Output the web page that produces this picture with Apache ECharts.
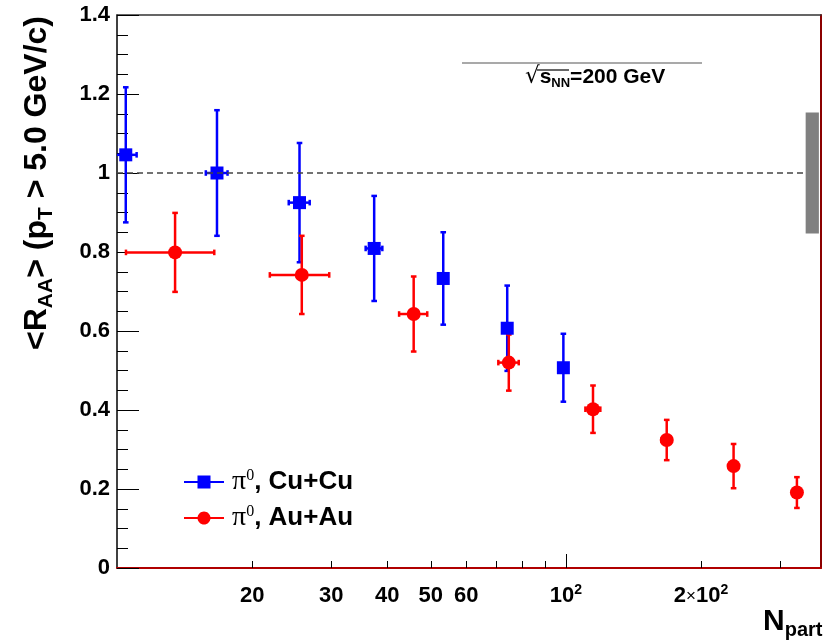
<!DOCTYPE html>
<html><head><meta charset="utf-8">
<script src="https://cdn.jsdelivr.net/npm/echarts@6/dist/echarts.min.js"></script>
<style>html,body{margin:0;padding:0;background:#fff}#c{width:833px;height:643px}</style>
</head><body><div id="c"></div>
<script>
// ---- data ----
const cuNpart = [10.46, 16.7, 25.5, 37.4, 53.3, 74.0, 98.7];
const cuRaa   = [1.046, 1.000, 0.925, 0.809, 0.733, 0.607, 0.507];
const cuErrY  = [0.171, 0.159, 0.151, 0.133, 0.117, 0.108, 0.086];
const cuErrX  = [0.6, 0.93, 1.37, 1.6, 1.2, 1.5, 1.8];

const auNpart = [13.47, 25.8, 45.8, 74.6, 114.9, 167.7, 236.3, 327];
const auRaa   = [0.799, 0.742, 0.643, 0.520, 0.402, 0.324, 0.258, 0.191];
const auErrY  = [0.100, 0.099, 0.095, 0.071, 0.060, 0.051, 0.056, 0.039];
const auErrX  = [3.0, 3.9, 3.3, 3.9, 4.4, 4.5, 4.5, 4.5];

const xTickMinor  = [20, 30, 40, 50, 60, 70, 80, 90, 200, 300];
const xTickMajor  = [100];
const xTickLabels = [20, 30, 40, 50, 60, 100, 200];
const refLine     = 1.0;
const normBandN   = [342, 366];
const normBandRaa = [0.847, 1.153];

const FONT = 'Liberation Sans';
const BLUE = '#0000ff', RED = '#ff0000';

function errRender(color) {
  return function (params, api) {
    const n = api.value(0), r = api.value(1), ey = api.value(2), ex = api.value(3);
    const c = api.coord([n, r]);
    const t = api.coord([n, r + ey]);
    const b = api.coord([n, r - ey]);
    const l = api.coord([n - ex, r]);
    const rr = api.coord([n + ex, r]);
    const cap = 2.8;
    const st = { stroke: color, lineWidth: 2.5 };
    return {
      type: 'group',
      children: [
        { type: 'line', shape: { x1: c[0], y1: t[1], x2: c[0], y2: b[1] }, style: st },
        { type: 'line', shape: { x1: c[0] - cap, y1: t[1], x2: c[0] + cap, y2: t[1] }, style: st },
        { type: 'line', shape: { x1: c[0] - cap, y1: b[1], x2: c[0] + cap, y2: b[1] }, style: st },
        { type: 'line', shape: { x1: l[0], y1: c[1], x2: rr[0], y2: c[1] }, style: st },
        { type: 'line', shape: { x1: l[0], y1: c[1] - cap, x2: l[0], y2: c[1] + cap }, style: st },
        { type: 'line', shape: { x1: rr[0], y1: c[1] - cap, x2: rr[0], y2: c[1] + cap }, style: st }
      ]
    };
  };
}

// legend icon: horizontal line with a circle (polygon outline) in the middle
function circleIconPath() {
  let p = 'path://M0,5.4h40v2.2H0z M';
  const N = 32;
  for (let k = 0; k < N; k++) {
    const a = 2 * Math.PI * k / N;
    p += (20 + 6.5 * Math.cos(a)).toFixed(3) + ',' + (6.5 + 6.5 * Math.sin(a)).toFixed(3) + (k < N - 1 ? 'L' : 'z');
  }
  return p;
}

const cuData = cuNpart.map((n, i) => [n, cuRaa[i], cuErrY[i], cuErrX[i]]);
const auData = auNpart.map((n, i) => [n, auRaa[i], auErrY[i], auErrX[i]]);

const chart = echarts.init(document.getElementById('c'), null, { renderer: 'canvas' });

const xBase = { type: 'log', logBase: 10, min: 10, max: 370, gridIndex: 0 };

const option = {
  animation: false,
  backgroundColor: '#fff',
  grid: { left: 117, right: 12, top: 15, bottom: 75, containLabel: false },
  xAxis: [
    Object.assign({}, xBase, {
      position: 'bottom',
      axisLine: { show: true, lineStyle: { color: '#b00000', width: 2 } },
      axisTick: { show: true, inside: true, length: 7, customValues: xTickMinor, lineStyle: { color: '#000', width: 1 } },
      minorTick: { show: false },
      splitLine: { show: false },
      axisLabel: {
        show: true, margin: 15, customValues: xTickLabels,
        color: '#000', fontFamily: FONT, fontWeight: 'bold', fontSize: 22, lineHeight: 26,
        formatter: function (v) {
          const r = Math.round(v);
          if (r === 100) return '{m|10}{sup|2}';
          if (r === 200) return '{m|2}{x|×}{m|10}{sup|2}';
          return '{m|' + r + '}';
        },
        rich: {
          m: { fontFamily: FONT, fontWeight: 'bold', fontSize: 22, lineHeight: 26, color: '#000' },
          sup: { fontFamily: FONT, fontWeight: 'bold', fontSize: 14, lineHeight: 14, verticalAlign: 'top', color: '#000' },
          x: { fontFamily: FONT, fontWeight: 'normal', fontSize: 17, lineHeight: 26, color: '#000' }
        }
      }
    }),
    Object.assign({}, xBase, {
      position: 'bottom',
      axisLine: { show: false },
      axisTick: { show: true, inside: true, length: 14, customValues: xTickMajor, lineStyle: { color: '#000', width: 1 } },
      axisLabel: { show: false },
      splitLine: { show: false }
    }),
    Object.assign({}, xBase, {
      position: 'top',
      axisLine: { show: true, lineStyle: { color: '#333', width: 1.5 } },
      axisTick: { show: false },
      axisLabel: { show: false },
      splitLine: { show: false }
    })
  ],
  yAxis: [
    {
      type: 'value', min: 0, max: 1.4, interval: 0.2, position: 'left',
      axisLine: { show: true, lineStyle: { color: '#000', width: 1.5 } },
      axisTick: { show: true, inside: true, length: 22, lineStyle: { color: '#000', width: 1 } },
      minorTick: { show: true, splitNumber: 4, length: 11, lineStyle: { color: '#000', width: 1 } },
      splitLine: { show: false },
      axisLabel: { show: true, margin: 7, color: '#000', fontFamily: FONT, fontWeight: 'bold', fontSize: 22 }
    },
    {
      type: 'value', min: 0, max: 1.4, position: 'right',
      axisLine: { show: true, lineStyle: { color: '#8b0000', width: 2 } },
      axisTick: { show: false }, axisLabel: { show: false }, splitLine: { show: false }
    }
  ],
  legend: {
    orient: 'vertical', left: 179, top: 463, itemWidth: 40, itemHeight: 13, itemGap: 8,
    selectedMode: false,
    data: [
      { name: 'Cu+Cu', icon: 'path://M0,5.4h40v2.2H0z M13.5,0h13v13h-13z' },
      { name: 'Au+Au', icon: circleIconPath() }
    ],
    formatter: function (name) { return '{pi|π}{sup|0}{t|, ' + name + '}'; },
    textStyle: {
      color: '#000',
      rich: {
        pi: { fontFamily: 'Liberation Serif', fontSize: 28, lineHeight: 28, color: '#000', padding: [0, 0, 0, 3] },
        sup: { fontFamily: 'Liberation Serif', fontSize: 16, lineHeight: 16, verticalAlign: 'top', color: '#000' },
        t: { fontFamily: FONT, fontWeight: 'bold', fontSize: 26, lineHeight: 28, color: '#000' }
      }
    }
  },
  series: [
    {
      name: 'Cu+Cu-err', type: 'custom', clip: true, renderItem: errRender(BLUE), data: cuData,
      encode: { x: 0, y: 1 }, z: 3, silent: true
    },
    {
      name: 'Au+Au-err', type: 'custom', clip: true, renderItem: errRender(RED), data: auData,
      encode: { x: 0, y: 1 }, z: 3, silent: true
    },
    {
      name: 'Cu+Cu', type: 'scatter', symbol: 'rect', symbolSize: 13, z: 4,
      itemStyle: { color: BLUE, opacity: 1 },
      data: cuData.map(d => [d[0], d[1]]),
      markLine: {
        silent: true, symbol: 'none', label: { show: false },
        lineStyle: { type: [6, 4], color: '#444', width: 1.5 },
        data: [[{ coord: [10, refLine] }, { coord: [normBandN[0], refLine] }]]
      }
    },
    {
      name: 'Au+Au', type: 'scatter', symbol: 'circle', symbolSize: 14, z: 4,
      itemStyle: { color: RED, opacity: 1 },
      data: auData.map(d => [d[0], d[1]]),
      markArea: {
        silent: true, itemStyle: { color: '#808080', opacity: 1 },
        data: [[{ coord: [normBandN[0], normBandRaa[0]] }, { coord: [normBandN[1], normBandRaa[1]] }]]
      }
    }
  ],
  graphic: [
    {
      type: 'text', x: 37, y: 183, rotation: Math.PI / 2,
      style: {
        text: '<R{sub|AA}> (p{sub|T} > 5.0 GeV/c)',
        fontFamily: FONT, fontWeight: 'bold', fontSize: 32, lineHeight: 40, fill: '#000',
        align: 'center', verticalAlign: 'middle',
        rich: { sub: { fontFamily: FONT, fontWeight: 'bold', fontSize: 21, lineHeight: 23, verticalAlign: 'bottom', fill: '#000' } }
      }
    },
    {
      type: 'text', x: 763, y: 604,
      style: {
        text: 'N{sub|part}', fontFamily: FONT, fontWeight: 'bold', fontSize: 30, lineHeight: 36, fill: '#000',
        align: 'left', verticalAlign: 'top',
        rich: { sub: { fontFamily: FONT, fontWeight: 'bold', fontSize: 20, lineHeight: 22, verticalAlign: 'bottom', fill: '#000' } }
      }
    },
    { type: 'line', shape: { x1: 462, y1: 63, x2: 702, y2: 63 }, style: { stroke: '#555', lineWidth: 1.2 } },
    {
      type: 'text', x: 525, y: 65,
      style: {
        text: '{r|√}{s|s}{sub|NN}{s|=200 GeV}', align: 'left', verticalAlign: 'top', fill: '#000',
        rich: {
          r: { fontFamily: 'DejaVu Sans', fontSize: 23, lineHeight: 25, fill: '#000' },
          s: { fontFamily: FONT, fontWeight: 'bold', fontSize: 21, lineHeight: 25, fill: '#000' },
          sub: { fontFamily: FONT, fontWeight: 'bold', fontSize: 13, lineHeight: 15, verticalAlign: 'bottom', fill: '#000' }
        }
      }
    },
    { type: 'line', shape: { x1: 537, y1: 70, x2: 569, y2: 70 }, style: { stroke: '#000', lineWidth: 1.2 } }
  ]
};
chart.setOption(option);
</script>
</body></html>
